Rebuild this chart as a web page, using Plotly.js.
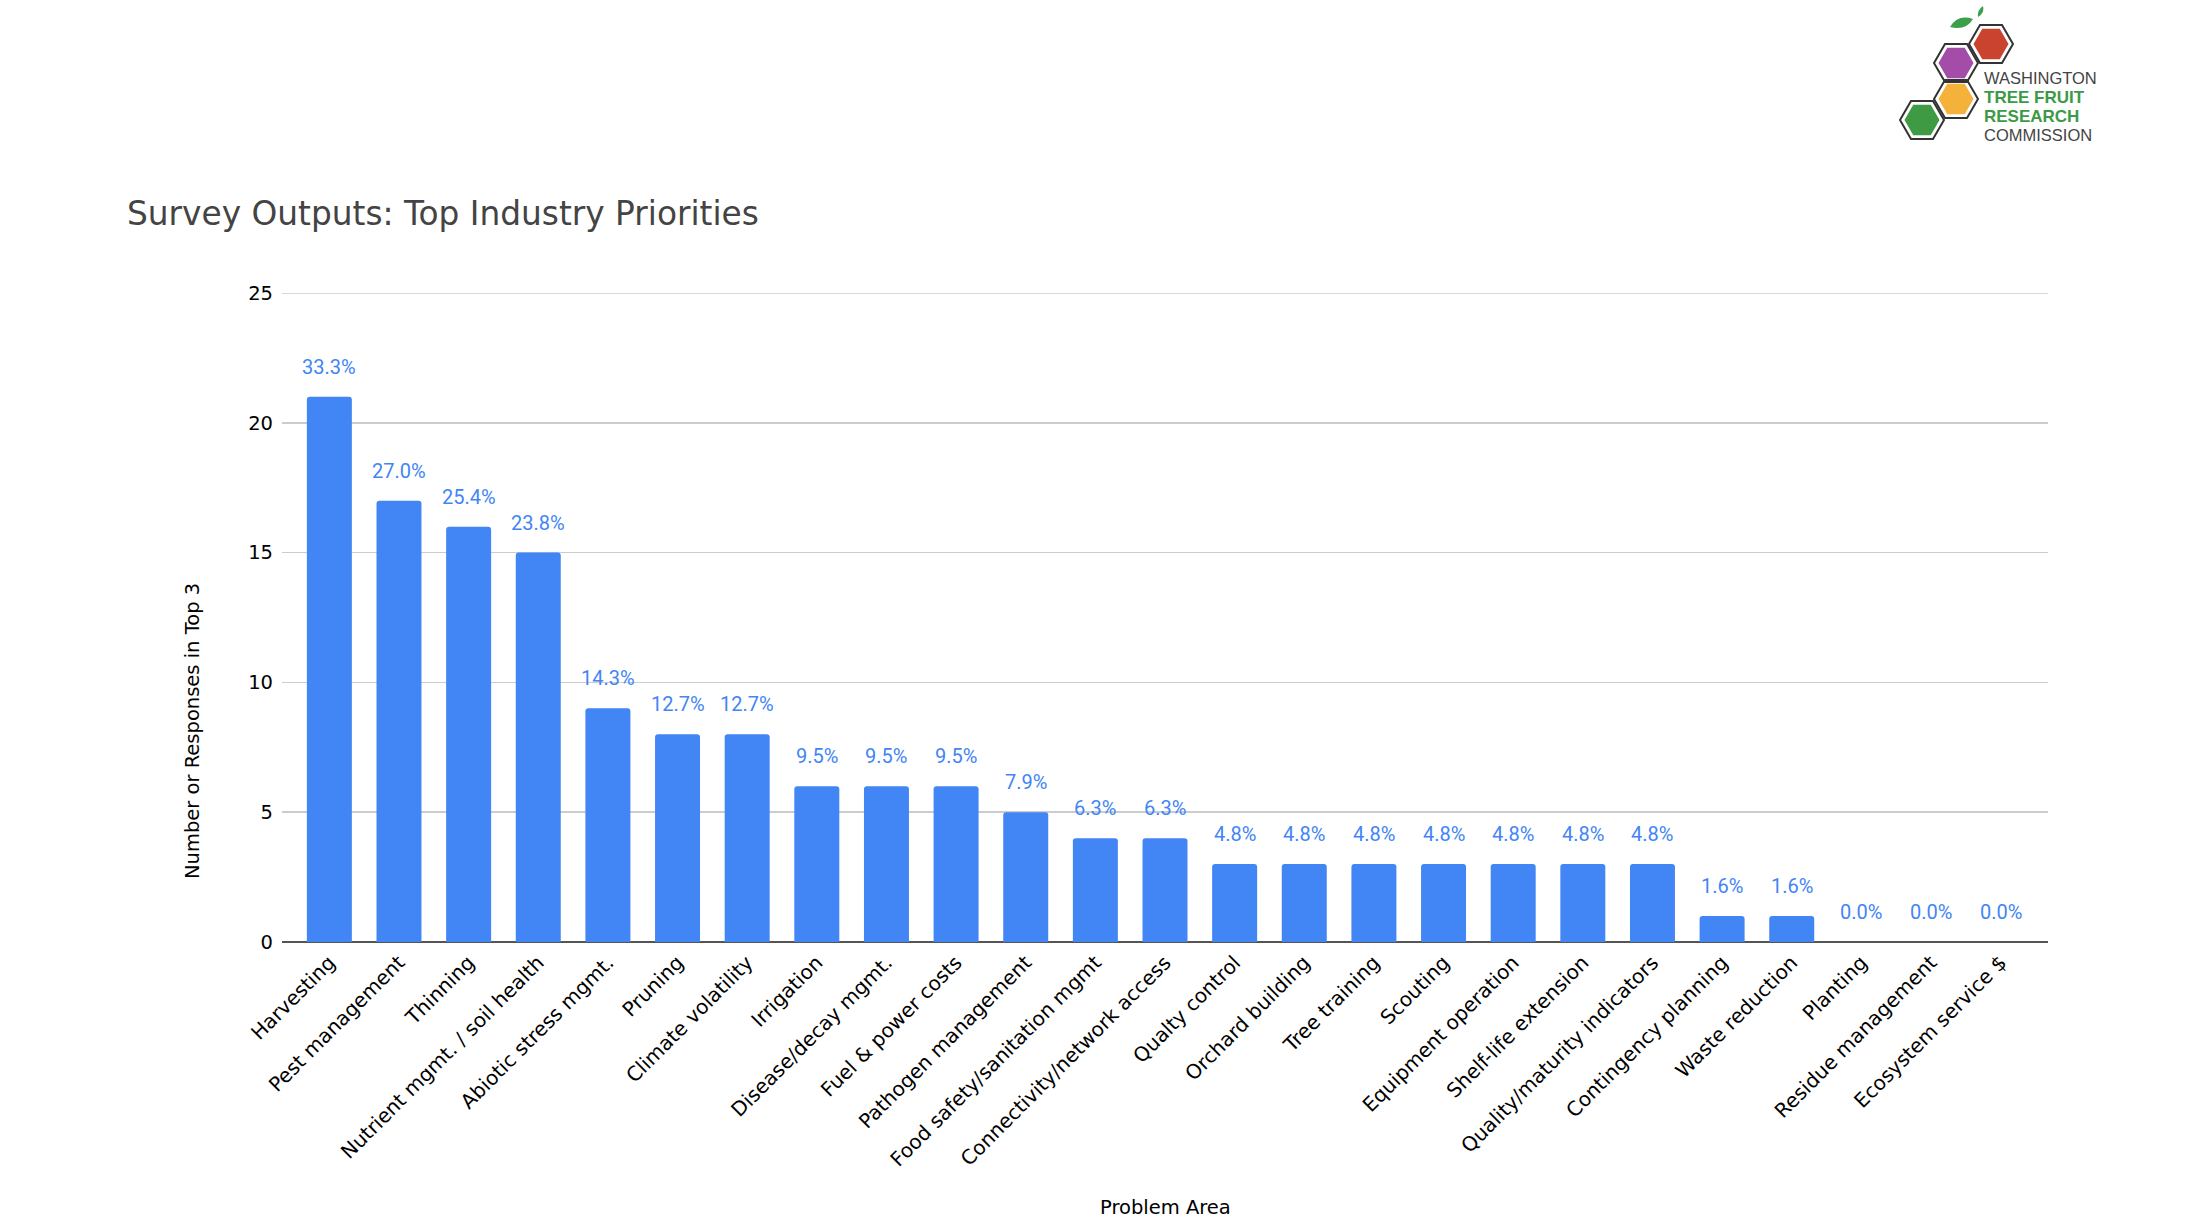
<!DOCTYPE html>
<html>
<head>
<meta charset="utf-8">
<script src="https://cdn.plot.ly/plotly-3.0.1.min.js"></script>
<style>
  html, body { margin: 0; padding: 0; background: #fff; }
  #chart { width: 2189px; height: 1226px; }
</style>
</head>
<body>
<div id="chart"></div>
<script>
// survey data
var categories = [
  'Harvesting', 'Pest management', 'Thinning', 'Nutrient mgmt. / soil health',
  'Abiotic stress mgmt.', 'Pruning', 'Climate volatility', 'Irrigation',
  'Disease/decay mgmt.', 'Fuel & power costs', 'Pathogen management',
  'Food safety/sanitation mgmt', 'Connectivity/network access', 'Qualty control',
  'Orchard building', 'Tree training', 'Scouting', 'Equipment operation',
  'Shelf-life extension', 'Quality/maturity indicators', 'Contingency planning',
  'Waste reduction', 'Planting', 'Residue management', 'Ecosystem service $'
]
var responses = [21, 17, 16, 15, 9, 8, 8, 6, 6, 6, 5, 4, 4, 3, 3, 3, 3, 3, 3, 3, 1, 1, 0, 0, 0]
var pctLabels = [
  '33.3%', '27.0%', '25.4%', '23.8%', '14.3%', '12.7%', '12.7%', '9.5%',
  '9.5%', '9.5%', '7.9%', '6.3%', '6.3%', '4.8%', '4.8%', '4.8%', '4.8%',
  '4.8%', '4.8%', '4.8%', '1.6%', '1.6%', '0.0%', '0.0%', '0.0%'
]
var yTicks = [0, 5, 10, 15, 20, 25]

var W = 2189, H = 1226
var M = { l: 282, r: 141, t: 293, b: 284 }
var plotW = W - M.l - M.r
var plotH = H - M.t - M.b

var blue = '#4285F4'

// pixel position on the page -> paper coords (for the header and logo)
function px(x) { return (x - M.l) / plotW }
function py(y) { return (H - M.b - y) / plotH }

function hexPath(cx, cy, r) {
  var s = ''
  for (var i = 0; i < 6; i++) {
    var a = Math.PI / 3 * i
    s += (i == 0 ? 'M ' : ' L ') + px(cx + r * Math.cos(a)) + ',' + py(cy + r * Math.sin(a))
  }
  return s + ' Z'
}

var bars = {
  type: 'bar',
  x: categories,
  y: responses,
  marker: { color: blue, cornerradius: 3 },
  hoverinfo: 'x+y'
}

var annotations = []

// percentage labels above each bar
for (var i = 0; i < categories.length; i++) {
  annotations.push({
    x: categories[i], y: responses[i], xref: 'x', yref: 'y',
    text: pctLabels[i], showarrow: false,
    yshift: 30, yanchor: 'middle',
    font: { family: 'Roboto, sans-serif', size: 20, color: blue }
  })
}

// axis titles
annotations.push({
  xref: 'paper', yref: 'paper', x: px(192), y: py(731),
  text: 'Number or Responses in Top 3', showarrow: false, textangle: -90,
  xanchor: 'center', yanchor: 'middle',
  font: { family: 'DejaVu Sans, sans-serif', size: 19.5, color: '#000' }
})
annotations.push({
  xref: 'paper', yref: 'paper', x: px(1165), y: py(1207),
  text: 'Problem Area', showarrow: false,
  xanchor: 'center', yanchor: 'middle',
  font: { family: 'DejaVu Sans, sans-serif', size: 19.5, color: '#000' }
})

// chart title
annotations.push({
  xref: 'paper', yref: 'paper', x: px(125), y: py(214),
  text: 'Survey Outputs: Top Industry Priorities', showarrow: false,
  xanchor: 'left', yanchor: 'middle',
  font: { family: 'DejaVu Sans, sans-serif', size: 32.8, color: '#444' }
})

// logo text, one block so the lines sit tight
annotations.push({
  xref: 'paper', yref: 'paper', x: px(1982), y: py(106),
  text: '<span style="font-size:16.5px;color:#444">WASHINGTON</span><br>' +
        '<span style="font-size:17px;color:#3c9a46"><b>TREE FRUIT</b></span><br>' +
        '<span style="font-size:17px;color:#3c9a46"><b>RESEARCH</b></span><br>' +
        '<span style="font-size:16.5px;color:#444">COMMISSION</span>',
  showarrow: false, align: 'left',
  xanchor: 'left', yanchor: 'middle',
  font: { family: 'Liberation Sans, Arial, sans-serif', size: 14.5, color: '#444' }
})

// logo hexagons
var hexes = [
  [1991, 44, '#c9432f'],
  [1956, 63, '#a34ca8'],
  [1956, 99, '#f5b23a'],
  [1922, 120, '#3f9a44']
]
var shapes = []
hexes.forEach(function (h) {
  shapes.push({
    type: 'path', xref: 'paper', yref: 'paper', path: hexPath(h[0], h[1], 22),
    line: { color: '#333', width: 2 }, fillcolor: 'rgba(0,0,0,0)'
  })
  shapes.push({
    type: 'path', xref: 'paper', yref: 'paper', path: hexPath(h[0], h[1], 17.5),
    line: { width: 0 }, fillcolor: h[2]
  })
})
// leaves
shapes.push({
  type: 'path', xref: 'paper', yref: 'paper',
  path: 'M ' + px(1950) + ',' + py(27) + ' Q ' + px(1958) + ',' + py(14) + ' ' + px(1973) + ',' + py(19) +
        ' Q ' + px(1966) + ',' + py(31) + ' ' + px(1950) + ',' + py(27) + ' Z',
  line: { width: 0 }, fillcolor: '#3aa04a'
})
shapes.push({
  type: 'path', xref: 'paper', yref: 'paper',
  path: 'M ' + px(1978) + ',' + py(17) + ' Q ' + px(1977) + ',' + py(10) + ' ' + px(1983) + ',' + py(6) +
        ' Q ' + px(1985) + ',' + py(13) + ' ' + px(1978) + ',' + py(17) + ' Z',
  line: { width: 0 }, fillcolor: '#3aa04a'
})
// top gridline (plotly skips the one on the range edge)
shapes.push({
  type: 'line', xref: 'paper', yref: 'y', x0: 0, x1: 1, y0: yTicks[yTicks.length - 1], y1: yTicks[yTicks.length - 1],
  line: { color: '#cccccc', width: 1.5 }, layer: 'below'
})

var layout = {
  width: W, height: H,
  margin: M,
  paper_bgcolor: '#fff', plot_bgcolor: '#fff',
  showlegend: false,
  bargap: 0.354,
  xaxis: {
    type: 'category',
    range: [-0.68, 24.68],
    tickangle: -45,
    tickfont: { family: 'DejaVu Sans, sans-serif', size: 20, color: '#000' },
    showgrid: false, zeroline: false, showline: false,
    ticks: '', ticklabelstandoff: 4
  },
  yaxis: {
    range: [0, 25],
    tickvals: yTicks,
    tickfont: { family: 'DejaVu Sans, sans-serif', size: 19.5, color: '#000' },
    showgrid: true, gridcolor: '#cccccc', gridwidth: 1.5,
    zeroline: true, zerolinecolor: '#555', zerolinewidth: 2,
    showline: false, ticks: '', ticklabelstandoff: 8
  },
  annotations: annotations,
  shapes: shapes
}

Plotly.newPlot('chart', [bars], layout, { displayModeBar: false, staticPlot: true })
</script>
</body>
</html>
